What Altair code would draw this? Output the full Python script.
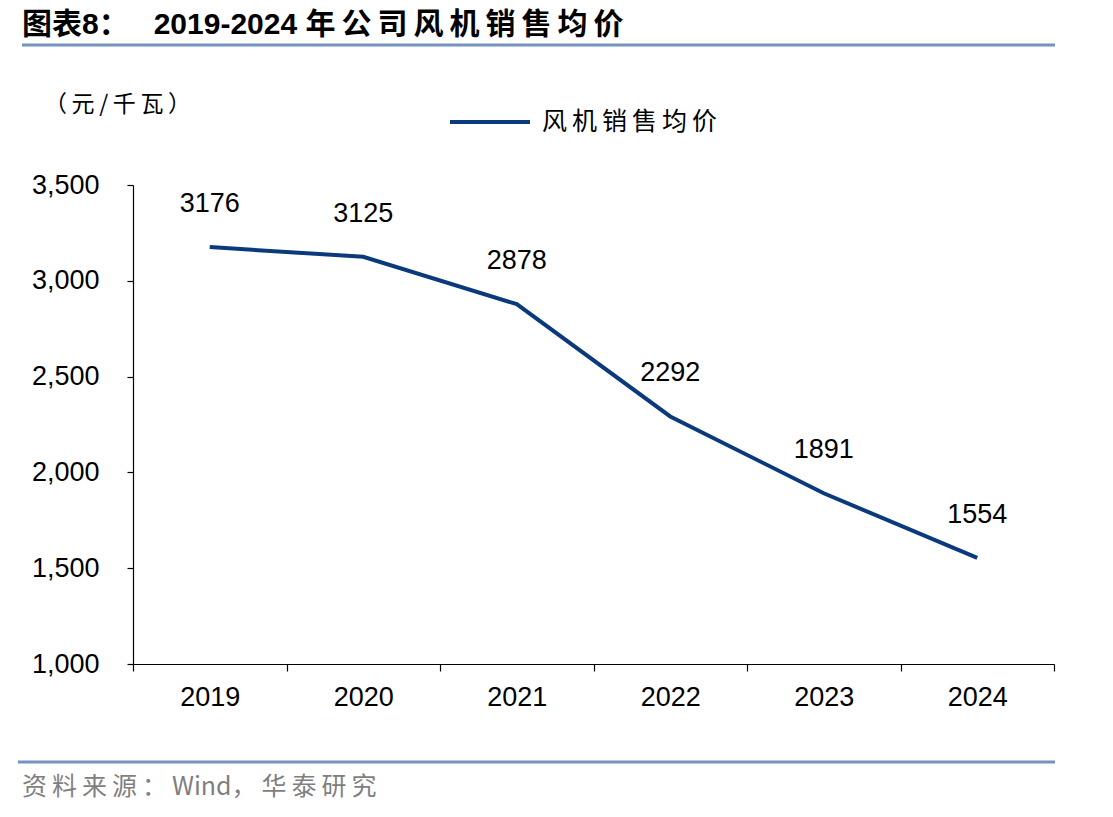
import altair as alt
import pandas as pd

# Average selling price of wind turbines (yuan / kW)
years = ["2019", "2020", "2021", "2022", "2023", "2024"]
prices = [3176, 3125, 2878, 2292, 1891, 1554]

title_head = "图表8："
title_years = "2019-2024"
title_tail = "年公司风机销售均价"
unit_text = "（元/千瓦）"
series_name = "风机销售均价"
source_head = "资料来源："
source_wind = "Wind"
source_tail = "，华泰研究"

LINE_COLOR = "#0a3a7c"
RULE_COLOR = "#7394bf"
FONT = "Liberation Sans, Arial, Noto Sans CJK SC"
CJK = "Noto Sans CJK SC"
THIN = "\u2009"
NBSP = "\u00a0"


def spaced(s):
    # loosen the tracking of CJK captions with thin spaces
    return THIN.join(s)


title_text = title_head + NBSP * 3 + title_years + NBSP + spaced(title_tail)
source_text = spaced(source_head) + THIN + source_wind + spaced(source_tail)

df = pd.DataFrame({"year": years, "price": prices})
one = pd.DataFrame({"k": [0]})

W, H = 921, 479

x_enc = alt.X(
    "year:O",
    scale=alt.Scale(type="band", paddingInner=0, paddingOuter=0),
    axis=alt.Axis(
        title=None, labelAngle=0, tickBand="extent", tickSize=7,
        labelPadding=13, labelFontSize=27, labelFont=FONT, labelColor="#000",
        domainColor="#000", tickColor="#000", domainWidth=1.2, tickWidth=1.2,
    ),
)
y_enc = alt.Y(
    "price:Q",
    scale=alt.Scale(domain=[1000, 3500], nice=False, zero=False),
    axis=alt.Axis(
        title=None, values=[1000, 1500, 2000, 2500, 3000, 3500], format=",.0f",
        tickSize=6, labelPadding=28, labelFontSize=27, labelFont=FONT,
        labelColor="#000", domainColor="#000", tickColor="#000",
        domainWidth=1.2, tickWidth=1.2, grid=False,
    ),
)

line = alt.Chart(df).mark_line(color=LINE_COLOR, strokeWidth=4).encode(x=x_enc, y=y_enc)

labels = alt.Chart(df).mark_text(
    dy=-35, baseline="alphabetic", align="center", fontSize=27, font=FONT, color="#000"
).encode(x=alt.X("year:O"), y=alt.Y("price:Q"), text=alt.Text("price:Q", format="d"))

title = alt.Chart(one).mark_text(
    text=title_text, align="left", baseline="middle", fontSize=30, fontWeight="bold",
    font=FONT, color="#000",
).encode(x=alt.value(-111), y=alt.value(-160))

top_rule = alt.Chart(one).mark_rule(color=RULE_COLOR, strokeWidth=3).encode(
    x=alt.value(-111), x2=alt.value(922), y=alt.value(-140)
)
bottom_rule = alt.Chart(one).mark_rule(color=RULE_COLOR, strokeWidth=3).encode(
    x=alt.value(-115), x2=alt.value(922), y=alt.value(577)
)

unit = alt.Chart(one).mark_text(
    text=spaced(unit_text), align="left", baseline="middle", fontSize=23, font=CJK, color="#000"
).encode(x=alt.value(-89), y=alt.value(-80))

legend_line = alt.Chart(one).mark_rule(color=LINE_COLOR, strokeWidth=4).encode(
    x=alt.value(317), x2=alt.value(397), y=alt.value(-63)
)
legend_text = alt.Chart(one).mark_text(
    text=spaced(series_name), align="left", baseline="middle", fontSize=25, font=CJK, color="#000"
).encode(x=alt.value(409), y=alt.value(-63))

source = alt.Chart(one).mark_text(
    text=source_text, align="left", baseline="middle", fontSize=25, font=CJK, color="#7f7f7f"
).encode(x=alt.value(-111), y=alt.value(602))

chart = (
    alt.layer(line, labels, title, top_rule, bottom_rule, unit, legend_line, legend_text, source)
    .properties(
        width=W, height=H,
        autosize=alt.AutoSizeParams(type="none"),
        padding={"left": 133, "top": 185, "right": 59, "bottom": 153},
        background="white",
    )
    .configure_view(stroke=None)
)

chart.save("out.html", embed_options={"renderer": "svg", "actions": False})
